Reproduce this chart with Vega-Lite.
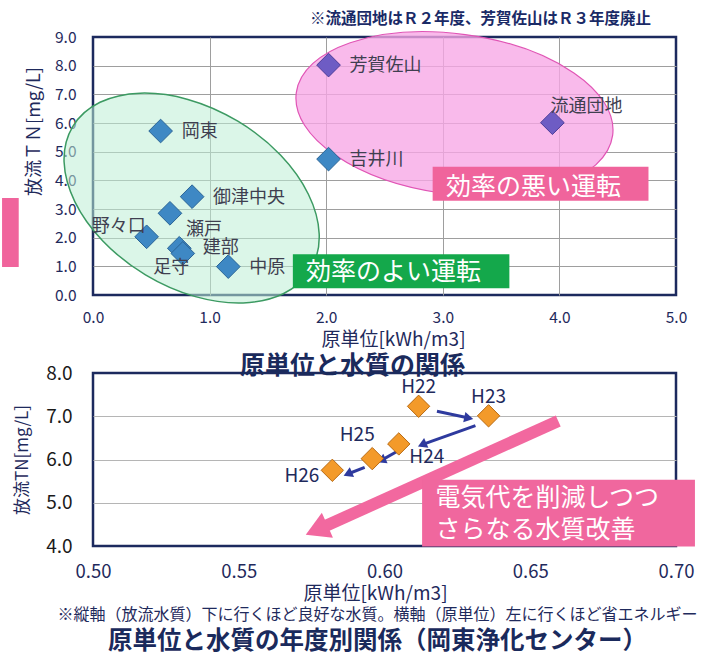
{
  "$schema": "https://vega.github.io/schema/vega-lite/v6.json",
  "background": "white",
  "padding": {"left": 0, "top": 10, "right": 4, "bottom": 0},
  "spacing": 1,
  "config": {
    "font": "Noto Sans CJK JP",
    "view": {"stroke": "#1c2a5e", "strokeWidth": 2.5, "fill": "white"},
    "axis": {"domain": false, "ticks": false, "gridColor": "#9e9e9e", "gridWidth": 1, "labelFont": "Noto Sans CJK JP", "titleFont": "Noto Sans CJK JP", "titleFontWeight": "normal", "titleColor": "#1f2a5c", "labelColor": "#1f2a5c"}
  },
  "datasets": {
    "stub": [{"x": -0.78, "x2": -0.637, "y": 0.977, "y2": 3.383}],
    "zones": [
      {"zone": "good", "x": 0.846, "y": 3.383},
      {"zone": "bad", "x": 3.10, "y": 6.313}
    ],
    "zoneBoxes": [
      {"label": "効率のよい運転", "x": 1.714, "x2": 3.571, "y": 0.234, "y2": 1.42},
      {"label": "効率の悪い運転", "x": 2.913, "x2": 4.764, "y": 3.289, "y2": 4.475}
    ],
    "zoneTexts": [
      {"label": "効率のよい運転", "x": 2.578, "y": 0.813},
      {"label": "効率の悪い運転", "x": 3.778, "y": 3.778}
    ],
    "plants": [
      {"name": "岡東", "x": 0.58, "y": 5.72, "series": "継続"},
      {"name": "御津中央", "x": 0.85, "y": 3.43, "series": "継続"},
      {"name": "瀬戸", "x": 0.66, "y": 2.85, "series": "継続"},
      {"name": "野々口", "x": 0.46, "y": 2.03, "series": "継続"},
      {"name": "足守", "x": 0.74, "y": 1.63, "series": "継続"},
      {"name": "建部", "x": 0.77, "y": 1.45, "series": "継続"},
      {"name": "中原", "x": 1.16, "y": 0.99, "series": "継続"},
      {"name": "芳賀佐山", "x": 2.02, "y": 8.02, "series": "廃止"},
      {"name": "流通団地", "x": 3.94, "y": 6.01, "series": "廃止"},
      {"name": "吉井川", "x": 2.02, "y": 4.74, "series": "継続"}
    ],
    "trend": [{"x": 0.6596, "y": 6.89, "x2": 0.5767, "y2": 4.37}],
    "trendHead": [{"x": 0.5767, "y": 4.37}],
    "steps": [
      {"from": "H22", "to": "H23", "x": 0.618, "y": 7.114, "x2": 0.6289, "y2": 6.96},
      {"from": "H23", "to": "H24", "x": 0.6312, "y": 6.782, "x2": 0.6129, "y2": 6.342},
      {"from": "H24", "to": "H25", "x": 0.6041, "y": 6.18, "x2": 0.5989, "y2": 5.981},
      {"from": "H25", "to": "H26", "x": 0.5932, "y": 5.82, "x2": 0.5874, "y2": 5.665}
    ],
    "stepHeads": [
      {"from": "H22", "x": 0.6289, "y": 6.96},
      {"from": "H23", "x": 0.6129, "y": 6.342},
      {"from": "H24", "x": 0.5989, "y": 5.981},
      {"from": "H25", "x": 0.5874, "y": 5.665}
    ],
    "years": [
      {"year": "H22", "x": 0.6117, "y": 7.23},
      {"year": "H23", "x": 0.6357, "y": 7.01},
      {"year": "H24", "x": 0.6049, "y": 6.36},
      {"year": "H25", "x": 0.5958, "y": 6.02},
      {"year": "H26", "x": 0.5821, "y": 5.75}
    ],
    "noteBox": [{"x": 0.6129, "x2": 0.7065, "y": 3.99, "y2": 5.533}],
    "noteText": [
      {"text": "電気代を削減しつつ", "x": 0.6175, "y": 5.11},
      {"text": "さらなる水質改善", "x": 0.6175, "y": 4.377}
    ]
  },
  "title": {
    "text": "※縦軸（放流水質）下に行くほど良好な水質。横軸（原単位）左に行くほど省エネルギー",
    "subtitle": "原単位と水質の年度別関係（岡東浄化センター）",
    "orient": "bottom", "anchor": "middle", "frame": "group", "dx": -7,
    "fontSize": 16, "fontWeight": "normal", "color": "#1f2a5c",
    "subtitleFontSize": 24.5, "subtitleFontWeight": "bold", "subtitleColor": "#1a2a5c", "subtitleFont": "Noto Sans CJK JP",
    "subtitlePadding": 7, "offset": 2
  },
  "vconcat": [
    {
      "width": 583, "height": 258,
      "title": {"text": "※流通団地はＲ２年度、芳賀佐山はＲ３年度廃止", "anchor": "end", "frame": "group", "dx": -25, "offset": 2, "fontSize": 15.5, "fontWeight": "bold", "color": "#1a2a66"},
      "resolve": {"scale": {"fill": "independent", "stroke": "independent"}},
      "encoding": {
        "x": {"field": "x", "type": "quantitative", "scale": {"domain": [0, 5], "nice": false, "zero": false},
          "axis": {"values": [0, 1, 2, 3, 4, 5], "format": ".1f", "labelFlush": false, "grid": true, "gridOpacity": {"condition": {"test": "datum.value <= 0 || datum.value >= 5", "value": 0}, "value": 1}, "labelFontSize": 15.5, "labelPadding": 15, "title": "原単位[kWh/m3]", "titleFontSize": 19, "titlePadding": 5, "titleX": 300}},
        "y": {"field": "y", "type": "quantitative", "scale": {"domain": [0, 9], "nice": false, "zero": false},
          "axis": {"values": [0, 1, 2, 3, 4, 5, 6, 7, 8, 9], "format": ".1f", "grid": true, "gridOpacity": {"condition": {"test": "datum.value <= 0 || datum.value >= 9", "value": 0}, "value": 1}, "labelFontSize": 15.5, "labelPadding": 17, "title": "放流ＴＮ[mg/L]", "titleFontSize": 18, "titlePadding": 11, "titleY": 94}}
      },
      "layer": [
        {"data": {"name": "stub"}, "mark": {"type": "rect", "fill": "#f0649c"}, "encoding": {"x2": {"field": "x2"}, "y2": {"field": "y2"}}},
        {"data": {"name": "zones"}, "transform": [{"filter": {"field": "zone", "equal": "good"}}],
          "mark": {"type": "point", "shape": "M -1 0 A 1 0.646 0 0 1 1 0 A 1 0.646 0 0 1 -1 0 Z", "size": 77006, "angle": 31, "filled": true, "fill": "#bdeed5", "fillOpacity": 0.55, "stroke": "#3c9a62", "strokeWidth": 1.5, "opacity": 1}},
        {"data": {"name": "zones"}, "transform": [{"filter": {"field": "zone", "equal": "bad"}}],
          "mark": {"type": "point", "shape": "M -1 0 A 1 0.5025 0 0 1 1 0 A 1 0.5025 0 0 1 -1 0 Z", "size": 101889, "angle": 7.7, "filled": true, "fill": "#f7a6e6", "fillOpacity": 0.78, "stroke": "#e055b5", "strokeWidth": 1.2, "opacity": 1}},
        {"data": {"name": "zoneBoxes"}, "transform": [{"filter": {"field": "label", "equal": "効率のよい運転"}}], "mark": {"type": "rect", "fill": "#14a84b"},
          "encoding": {"x2": {"field": "x2"}, "y2": {"field": "y2"}}},
        {"data": {"name": "zoneBoxes"}, "transform": [{"filter": {"field": "label", "equal": "効率の悪い運転"}}], "mark": {"type": "rect", "fill": "#f0649c"},
          "encoding": {"x2": {"field": "x2"}, "y2": {"field": "y2"}}},
        {"data": {"name": "zoneTexts"}, "mark": {"type": "text", "color": "white", "fontSize": 25, "baseline": "middle", "align": "center"},
          "encoding": {"text": {"field": "label"}}},
        {"data": {"name": "plants"}, "mark": {"type": "point", "shape": "diamond", "filled": true, "size": 560, "opacity": 1, "strokeWidth": 1},
          "encoding": {
            "fill": {"field": "series", "type": "nominal", "scale": {"domain": ["継続", "廃止"], "range": ["#3e88c4", "#6e5cc4"]}, "legend": null},
            "stroke": {"field": "series", "type": "nominal", "scale": {"domain": ["継続", "廃止"], "range": ["#2a6496", "#4a3c98"]}, "legend": null}}},
        {"data": {"name": "plants"}, "transform": [{"filter": {"field": "name", "oneOf": ["岡東", "御津中央", "中原", "芳賀佐山", "吉井川"]}}],
          "mark": {"type": "text", "align": "left", "baseline": "middle", "dx": 21, "dy": 1, "fontSize": 18, "color": "#3f3f50"}, "encoding": {"text": {"field": "name"}}},
        {"data": {"name": "plants"}, "transform": [{"filter": {"field": "name", "equal": "野々口"}}],
          "mark": {"type": "text", "align": "right", "baseline": "middle", "dx": -1, "dy": -10, "fontSize": 18, "color": "#3f3f50"}, "encoding": {"text": {"field": "name"}}},
        {"data": {"name": "plants"}, "transform": [{"filter": {"field": "name", "equal": "瀬戸"}}],
          "mark": {"type": "text", "align": "left", "baseline": "middle", "dx": 16, "dy": 17, "fontSize": 18, "color": "#3f3f50"}, "encoding": {"text": {"field": "name"}}},
        {"data": {"name": "plants"}, "transform": [{"filter": {"field": "name", "equal": "建部"}}],
          "mark": {"type": "text", "align": "left", "baseline": "middle", "dx": 20, "dy": -5, "fontSize": 18, "color": "#3f3f50"}, "encoding": {"text": {"field": "name"}}},
        {"data": {"name": "plants"}, "transform": [{"filter": {"field": "name", "equal": "足守"}}],
          "mark": {"type": "text", "align": "center", "baseline": "middle", "dx": -8, "dy": 20, "fontSize": 18, "color": "#3f3f50"}, "encoding": {"text": {"field": "name"}}},
        {"data": {"name": "plants"}, "transform": [{"filter": {"field": "name", "equal": "流通団地"}}],
          "mark": {"type": "text", "align": "left", "baseline": "middle", "dx": -2, "dy": -16, "fontSize": 18, "color": "#3f3f50"}, "encoding": {"text": {"field": "name"}}}
      ]
    },
    {
      "width": 583, "height": 173,
      "title": {"text": "原単位と水質の関係", "anchor": "middle", "frame": "group", "dx": -32, "offset": -15, "fontSize": 25, "fontWeight": "bold", "color": "#1a2a5c"},
      "encoding": {
        "x": {"field": "x", "type": "quantitative", "scale": {"domain": [0.5, 0.7], "nice": false, "zero": false},
          "axis": {"values": [0.5, 0.55, 0.6, 0.65, 0.7], "format": ".2f", "labelFlush": false, "grid": false, "labelFontSize": 18.5, "labelPadding": 16, "title": "原単位[kWh/m3]", "titleFontSize": 19, "titlePadding": 4, "titleX": 282}},
        "y": {"field": "y", "type": "quantitative", "scale": {"domain": [4, 8], "nice": false, "zero": false},
          "axis": {"values": [4, 5, 6, 7, 8], "format": ".1f", "grid": true, "gridColor": "#b5b5b5", "gridOpacity": {"condition": {"test": "datum.value <= 4 || datum.value >= 8", "value": 0}, "value": 1}, "labelFontSize": 19, "labelColor": "#1a1a1a", "labelPadding": 21, "title": "放流TN[mg/L]", "titleFontSize": 17, "titlePadding": 14}}
      },
      "layer": [
        {"data": {"name": "trend"}, "mark": {"type": "rule", "color": "#f2689f", "strokeWidth": 12}, "encoding": {"x2": {"field": "x2"}, "y2": {"field": "y2"}}},
        {"data": {"name": "trendHead"}, "mark": {"type": "point", "shape": "triangle-up", "filled": true, "color": "#f2689f", "size": 750, "angle": 246, "opacity": 1}},
        {"data": {"name": "steps"}, "mark": {"type": "rule", "color": "#2e3a9e", "strokeWidth": 3}, "encoding": {"x2": {"field": "x2"}, "y2": {"field": "y2"}}},
        {"data": {"name": "stepHeads"}, "transform": [{"filter": {"field": "from", "equal": "H22"}}],
          "mark": {"type": "point", "shape": "triangle-up", "filled": true, "color": "#2e3a9e", "size": 110, "angle": 102, "opacity": 1}},
        {"data": {"name": "stepHeads"}, "transform": [{"filter": {"not": {"field": "from", "equal": "H22"}}}],
          "mark": {"type": "point", "shape": "triangle-up", "filled": true, "color": "#2e3a9e", "size": 110, "angle": 246, "opacity": 1}},
        {"data": {"name": "years"}, "mark": {"type": "point", "shape": "diamond", "filled": true, "size": 500, "fill": "#f39a2a", "stroke": "#b86a12", "strokeWidth": 1, "opacity": 1}},
        {"data": {"name": "years"}, "transform": [{"filter": {"field": "year", "oneOf": ["H22", "H23"]}}],
          "mark": {"type": "text", "align": "center", "baseline": "middle", "dy": -19, "fontSize": 19, "color": "#1f2a5c"}, "encoding": {"text": {"field": "year"}}},
        {"data": {"name": "years"}, "transform": [{"filter": {"field": "year", "equal": "H24"}}],
          "mark": {"type": "text", "align": "center", "baseline": "middle", "dx": 28, "dy": 13, "fontSize": 19, "color": "#1f2a5c"}, "encoding": {"text": {"field": "year"}}},
        {"data": {"name": "years"}, "transform": [{"filter": {"field": "year", "equal": "H25"}}],
          "mark": {"type": "text", "align": "center", "baseline": "middle", "dx": -15, "dy": -24, "fontSize": 19, "color": "#1f2a5c"}, "encoding": {"text": {"field": "year"}}},
        {"data": {"name": "years"}, "transform": [{"filter": {"field": "year", "equal": "H26"}}],
          "mark": {"type": "text", "align": "right", "baseline": "middle", "dx": -13, "dy": 6, "fontSize": 19, "color": "#1f2a5c"}, "encoding": {"text": {"field": "year"}}},
        {"data": {"name": "noteBox"}, "mark": {"type": "rect", "fill": "#f0679e"}, "encoding": {"x2": {"field": "x2"}, "y2": {"field": "y2"}}},
        {"data": {"name": "noteText"}, "mark": {"type": "text", "color": "white", "fontSize": 25, "align": "left", "baseline": "middle"}, "encoding": {"text": {"field": "text"}}}
      ]
    }
  ]
}
